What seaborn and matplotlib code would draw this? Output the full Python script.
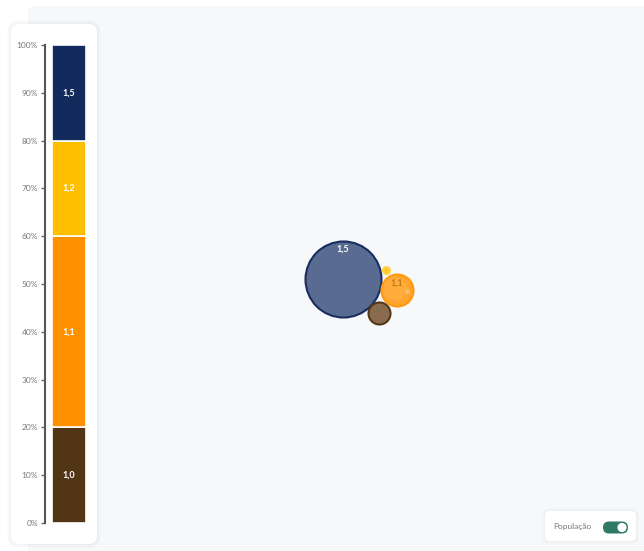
import matplotlib
matplotlib.use("Agg")
import matplotlib.pyplot as plt
import seaborn as sns
import pandas as pd
from matplotlib.patches import FancyBboxPatch

sns.set_theme(style="white")
plt.rcParams['font.family'] = ['Lato', 'DejaVu Sans']

# ---- data ----
categories = ["1,0", "1,1", "1,2", "1,5"]
shares = [20, 40, 20, 20]
bar_colors = ["#523515", "#ff9000", "#ffbf00", "#122a5c"]
y_ticks = [0, 10, 20, 30, 40, 50, 60, 70, 80, 90, 100]

bubble_labels = ["1,5", "1,2", "1,1", "1,0"]
bubble_x = [343, 386, 397, 379]
bubble_y = [279, 270, 290, 313]
bubble_r = [38, 3.5, 16, 11]
bubble_fill = ["#5a6b91", "#ffc629", "#ffa42c", "#8a6b50"]
bubble_edge = ["#1a2d60", "#ffd24a", "#ff9a10", "#533718"]

W, H = 644, 551
fig = plt.figure(figsize=(W / 100, H / 100), dpi=100)
fig.patch.set_facecolor("white")

def fx(px):
    return px / W

def fy(py):
    return 1 - py / H

# gray background panel
bg = fig.add_axes([0, 0, 1, 1], zorder=0)
bg.set_xlim(0, W); bg.set_ylim(H, 0); bg.axis("off")
bg.add_patch(FancyBboxPatch((28, 6), W - 28 + 20, H, boxstyle="round,pad=0,rounding_size=6",
                            fc="#f7f8fa", ec="none"))
# left card with subtle shadow
for d in [4, 3, 2, 1]:
    bg.add_patch(FancyBboxPatch((11 - d, 24 - d), 86 + 2 * d, 520 + 2 * d,
                                boxstyle="round,pad=0,rounding_size=10", fc="black", alpha=0.012, ec="none"))
bg.add_patch(FancyBboxPatch((11, 24), 86, 520, boxstyle="round,pad=0,rounding_size=9",
                            fc="white", ec="none"))
# toggle card
for d in [3, 2, 1]:
    bg.add_patch(FancyBboxPatch((545 - d, 511 - d), 91 + 2 * d, 30 + 2 * d,
                                boxstyle="round,pad=0,rounding_size=6", fc="black", alpha=0.012, ec="none"))
bg.add_patch(FancyBboxPatch((545, 511), 91, 30, boxstyle="round,pad=0,rounding_size=5",
                            fc="white", ec="none"))
bg.text(553, 527, "População", fontsize=6, color="#777777", va="center", ha="left")
bg.add_patch(FancyBboxPatch((603, 521.5), 25, 12, boxstyle="round,pad=0,rounding_size=6",
                            fc="#2f7966", ec="none"))
bg.add_patch(plt.Circle((622, 527.5), 4.6, fc="white", ec="none"))

# ---- stacked bar ----
ax = fig.add_axes([fx(45), fy(523), fx(45), fy(45) - fy(523)], zorder=2)
ax.set_facecolor("none")
bottom = 0
for cat, v, c in zip(categories, shares, bar_colors):
    ax.bar(24, v, bottom=bottom, width=34, color=c, edgecolor="white", linewidth=1.2)
    ax.text(24, bottom + v / 2, cat, color="white", fontsize=6.5, fontweight="bold",
            ha="center", va="center")
    bottom += v
ax.set_xlim(0, 45)
ax.set_ylim(0, 100)
ax.set_yticks(y_ticks)
ax.set_yticklabels([f"{t}%" for t in y_ticks], fontsize=6, color="#777777")
ax.tick_params(axis="y", direction="out", length=3, width=1, color="#666666", pad=2, left=True)
ax.set_xticks([])
for s in ["top", "right", "bottom"]:
    ax.spines[s].set_visible(False)
ax.spines["left"].set_color("#555555")
ax.spines["left"].set_linewidth(1.5)

# ---- bubbles ----
ax2 = fig.add_axes([0, 0, 1, 1], zorder=3)
ax2.set_facecolor("none")
ax2.set_xlim(0, W); ax2.set_ylim(H, 0); ax2.axis("off")
df = pd.DataFrame({"x": bubble_x, "y": bubble_y, "r": bubble_r, "label": bubble_labels})
sizes = [(2 * r * 0.72) ** 2 for r in bubble_r]
for i, row in df.iterrows():
    sns.scatterplot(x=[row.x], y=[row.y], s=sizes[i], color=bubble_fill[i], edgecolor=bubble_edge[i],
                    linewidth=1.5, ax=ax2, legend=False, zorder=4)
# highlight on orange
ax2.scatter([395], [289], s=(2 * 12 * 0.72) ** 2, color="#ffb24a", edgecolor="none", alpha=0.6, zorder=5)
ax2.scatter([407.5], [291.5], s=(2 * 2.5 * 0.72) ** 2, color="#ffc070", edgecolor="none", alpha=0.8, zorder=5)
ax2.text(343, 249, "1,5", color="white", fontsize=6.5, fontweight="bold", ha="center", va="center", zorder=6)
ax2.text(397, 283, "1,1", color="#b06a00", fontsize=6.5, fontweight="bold", ha="center", va="center",
         alpha=0.8, zorder=6)

fig.savefig("out.png", dpi=100)
